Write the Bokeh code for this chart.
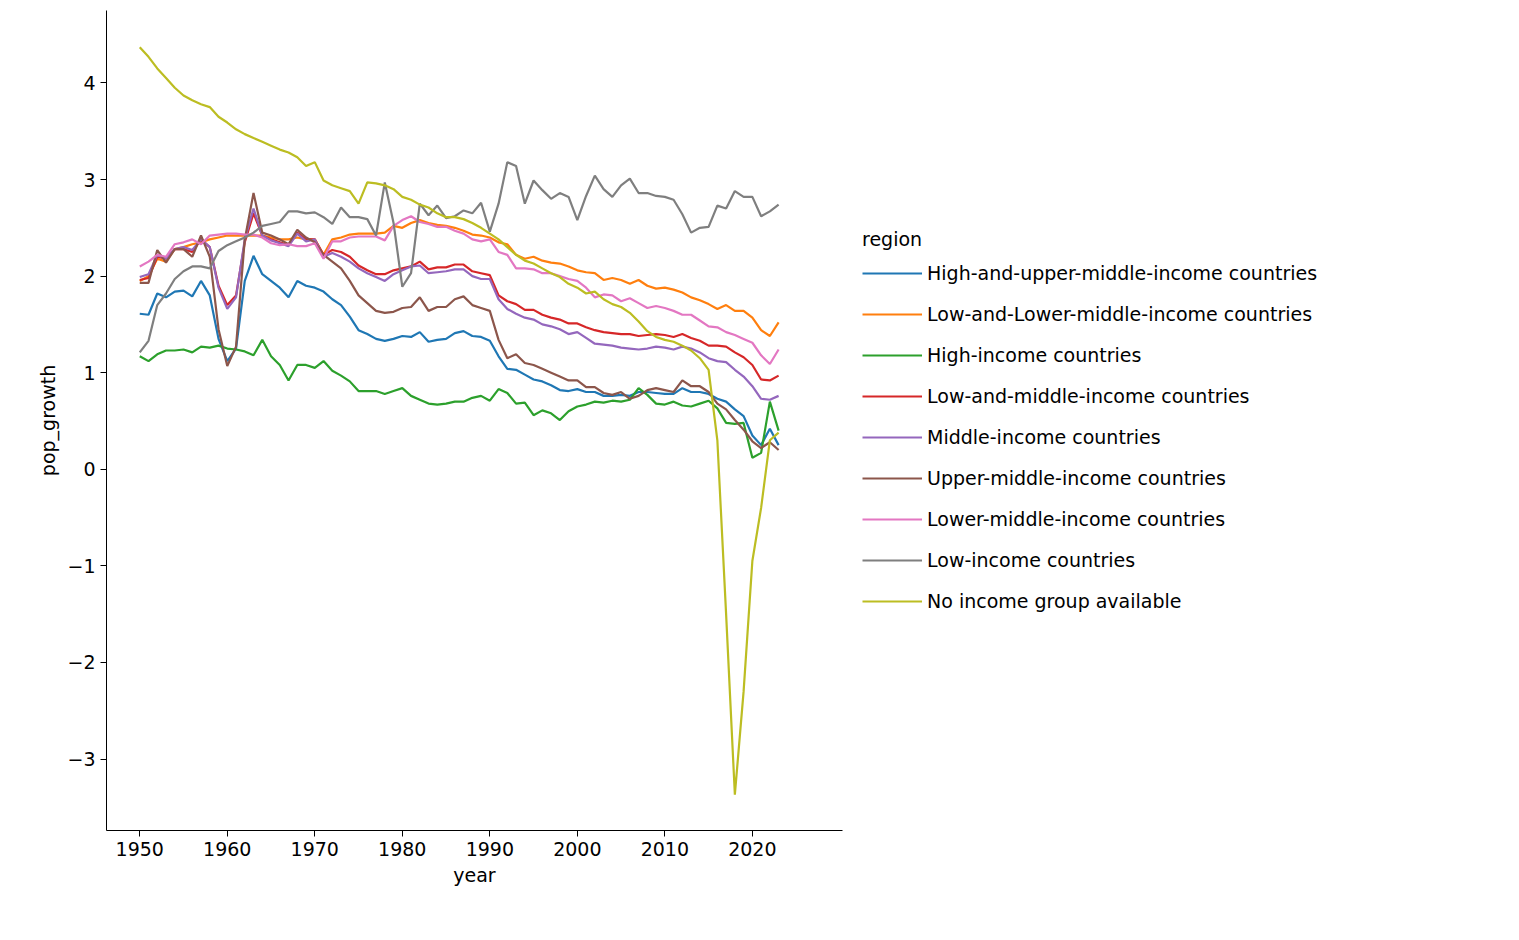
from bokeh.plotting import figure
from bokeh.models import Legend, LegendItem, Range1d
from bokeh.embed import file_html
from bokeh.resources import INLINE

years = list(range(1950, 2024))

high_upper_middle = [1.61,1.60,1.82,1.78,1.84,1.85,1.79,1.95,1.80,1.35,1.12,1.25,1.95,2.21,2.02,1.95,1.88,1.78,1.95,1.90,1.88,1.84,1.76,1.70,1.58,1.44,1.40,1.35,1.33,1.35,1.38,1.37,1.42,1.32,1.34,1.35,1.41,1.43,1.38,1.37,1.33,1.17,1.04,1.03,0.98,0.93,0.91,0.87,0.82,0.81,0.83,0.80,0.80,0.76,0.76,0.77,0.76,0.80,0.80,0.79,0.78,0.78,0.84,0.80,0.80,0.78,0.73,0.70,0.62,0.55,0.35,0.25,0.42,0.25]
low_lower_middle = [1.95,2.00,2.18,2.15,2.28,2.30,2.33,2.35,2.38,2.40,2.42,2.42,2.42,2.42,2.42,2.40,2.38,2.38,2.40,2.38,2.38,2.22,2.38,2.40,2.43,2.44,2.44,2.44,2.45,2.52,2.50,2.55,2.58,2.55,2.53,2.52,2.50,2.47,2.43,2.42,2.40,2.35,2.33,2.22,2.18,2.20,2.16,2.14,2.13,2.10,2.06,2.04,2.03,1.96,1.98,1.96,1.92,1.96,1.90,1.87,1.88,1.86,1.83,1.78,1.75,1.71,1.66,1.70,1.64,1.64,1.57,1.44,1.38,1.52]
high_income = [1.17,1.12,1.19,1.23,1.23,1.24,1.21,1.27,1.26,1.28,1.25,1.24,1.22,1.18,1.34,1.17,1.08,0.92,1.08,1.08,1.05,1.12,1.02,0.97,0.91,0.81,0.81,0.81,0.78,0.81,0.84,0.76,0.72,0.68,0.67,0.68,0.70,0.70,0.74,0.76,0.71,0.83,0.79,0.68,0.69,0.56,0.61,0.58,0.51,0.60,0.65,0.67,0.70,0.69,0.71,0.70,0.72,0.84,0.77,0.68,0.67,0.70,0.66,0.65,0.68,0.71,0.63,0.48,0.47,0.48,0.12,0.17,0.70,0.40]
low_and_middle = [1.96,1.98,2.20,2.18,2.28,2.28,2.25,2.38,2.30,1.90,1.70,1.80,2.35,2.65,2.42,2.38,2.35,2.32,2.45,2.38,2.38,2.22,2.27,2.25,2.20,2.11,2.06,2.02,2.02,2.06,2.08,2.10,2.15,2.07,2.09,2.09,2.12,2.12,2.05,2.03,2.01,1.80,1.74,1.71,1.65,1.65,1.60,1.57,1.55,1.51,1.51,1.47,1.44,1.42,1.41,1.40,1.40,1.38,1.39,1.40,1.39,1.37,1.40,1.36,1.33,1.28,1.28,1.27,1.21,1.16,1.08,0.93,0.92,0.97]
middle = [1.99,2.02,2.22,2.18,2.28,2.30,2.27,2.38,2.30,1.88,1.66,1.78,2.38,2.70,2.42,2.37,2.34,2.31,2.44,2.36,2.38,2.20,2.24,2.20,2.15,2.08,2.03,1.99,1.95,2.02,2.06,2.10,2.11,2.03,2.04,2.05,2.07,2.07,2.00,1.97,1.97,1.76,1.66,1.61,1.57,1.55,1.50,1.48,1.45,1.40,1.42,1.36,1.30,1.29,1.28,1.26,1.25,1.24,1.25,1.27,1.26,1.24,1.27,1.25,1.21,1.15,1.12,1.11,1.03,0.96,0.86,0.73,0.72,0.76]
upper_middle = [1.93,1.93,2.27,2.14,2.28,2.28,2.20,2.42,2.20,1.45,1.07,1.27,2.38,2.86,2.45,2.42,2.38,2.33,2.48,2.40,2.35,2.22,2.15,2.08,1.95,1.80,1.72,1.64,1.62,1.63,1.67,1.68,1.78,1.64,1.68,1.68,1.76,1.79,1.70,1.67,1.64,1.34,1.15,1.19,1.10,1.08,1.04,1.00,0.96,0.92,0.92,0.85,0.85,0.79,0.77,0.80,0.73,0.76,0.82,0.84,0.82,0.80,0.92,0.86,0.86,0.80,0.68,0.62,0.51,0.41,0.29,0.22,0.28,0.20]
lower_middle = [2.10,2.15,2.22,2.20,2.33,2.35,2.38,2.33,2.42,2.43,2.44,2.44,2.43,2.43,2.40,2.34,2.32,2.33,2.31,2.31,2.34,2.18,2.36,2.36,2.40,2.41,2.41,2.41,2.37,2.52,2.58,2.62,2.56,2.54,2.51,2.51,2.47,2.44,2.38,2.36,2.38,2.25,2.22,2.08,2.08,2.07,2.03,2.03,2.00,1.97,1.95,1.88,1.78,1.81,1.80,1.74,1.77,1.72,1.67,1.69,1.67,1.64,1.60,1.60,1.54,1.48,1.47,1.42,1.39,1.35,1.31,1.18,1.09,1.24]
low_income = [1.21,1.33,1.70,1.82,1.97,2.05,2.10,2.10,2.08,2.26,2.32,2.36,2.40,2.45,2.52,2.54,2.56,2.67,2.67,2.65,2.66,2.61,2.54,2.71,2.61,2.61,2.59,2.42,2.97,2.55,1.89,2.03,2.75,2.63,2.73,2.60,2.62,2.68,2.65,2.76,2.46,2.75,3.18,3.14,2.75,2.99,2.89,2.80,2.86,2.82,2.58,2.83,3.04,2.90,2.82,2.94,3.01,2.86,2.86,2.83,2.82,2.79,2.64,2.45,2.50,2.51,2.73,2.70,2.88,2.82,2.82,2.62,2.67,2.74]
no_income = [4.37,4.27,4.15,4.05,3.95,3.87,3.82,3.78,3.75,3.65,3.59,3.52,3.47,3.43,3.39,3.35,3.31,3.28,3.23,3.14,3.18,2.99,2.94,2.91,2.88,2.75,2.97,2.96,2.94,2.90,2.82,2.79,2.74,2.71,2.65,2.61,2.61,2.59,2.55,2.50,2.44,2.38,2.30,2.22,2.16,2.13,2.08,2.03,1.99,1.92,1.88,1.82,1.84,1.76,1.71,1.68,1.62,1.53,1.43,1.37,1.34,1.32,1.28,1.23,1.15,1.03,0.30,-1.50,-3.37,-2.30,-0.95,-0.40,0.30,0.38]

regions = ["High-and-upper-middle-income countries", "Low-and-Lower-middle-income countries",
           "High-income countries", "Low-and-middle-income countries", "Middle-income countries",
           "Upper-middle-income countries", "Lower-middle-income countries", "Low-income countries",
           "No income group available"]
series = [high_upper_middle, low_lower_middle, high_income, low_and_middle, middle,
          upper_middle, lower_middle, low_income, no_income]
colors = ["#1f77b4", "#ff7f0e", "#2ca02c", "#d62728", "#9467bd", "#8c564b", "#e377c2", "#7f7f7f", "#bcbd22"]

p = figure(width=1500, height=920, output_backend="svg", toolbar_location=None,
           x_range=Range1d(1946.2, 2030.3), y_range=Range1d(-3.74, 4.75),
           min_border_left=106, min_border_top=10, min_border_bottom=82, min_border_right=0)
p.frame_width = 736
p.frame_height = 820
items = []
for name, ys, c in zip(regions, series, colors):
    r = p.line(years, ys, line_color=c, line_width=2.2)
    items.append(LegendItem(label=name, renderers=[r]))

legend = Legend(items=items, title="region", location="center_left", border_line_color=None,
                label_text_font_size="19px", title_text_font_size="19px",
                label_text_font="DejaVu Sans", title_text_font="DejaVu Sans",
                title_text_font_style="normal", title_text_color="black",
                label_text_color="black",
                glyph_width=60, glyph_height=20, label_height=20, spacing=19, margin=20, padding=4,
                title_standoff=12, background_fill_alpha=0)
p.add_layout(legend, "right")

p.outline_line_color = None
p.xgrid.visible = False
p.ygrid.visible = False
p.xaxis.axis_label = "year"
p.yaxis.axis_label = "pop_growth"
p.xaxis.ticker = [1950, 1960, 1970, 1980, 1990, 2000, 2010, 2020]
p.yaxis.ticker = [-3, -2, -1, 0, 1, 2, 3, 4]
for ax in (p.xaxis[0], p.yaxis[0]):
    ax.major_label_text_font_size = "19px"
    ax.axis_label_text_font_size = "19px"
    ax.axis_label_text_font_style = "normal"
    ax.major_label_text_font = "DejaVu Sans"
    ax.axis_label_text_font = "DejaVu Sans"
    ax.minor_tick_line_color = None
    ax.major_tick_out = 6
    ax.major_tick_in = 0
    ax.axis_line_color = "black"
    ax.major_tick_line_color = "black"
    ax.major_label_text_color = "black"
    ax.axis_label_text_color = "black"

open("out.html", "w").write(file_html(p, INLINE))
